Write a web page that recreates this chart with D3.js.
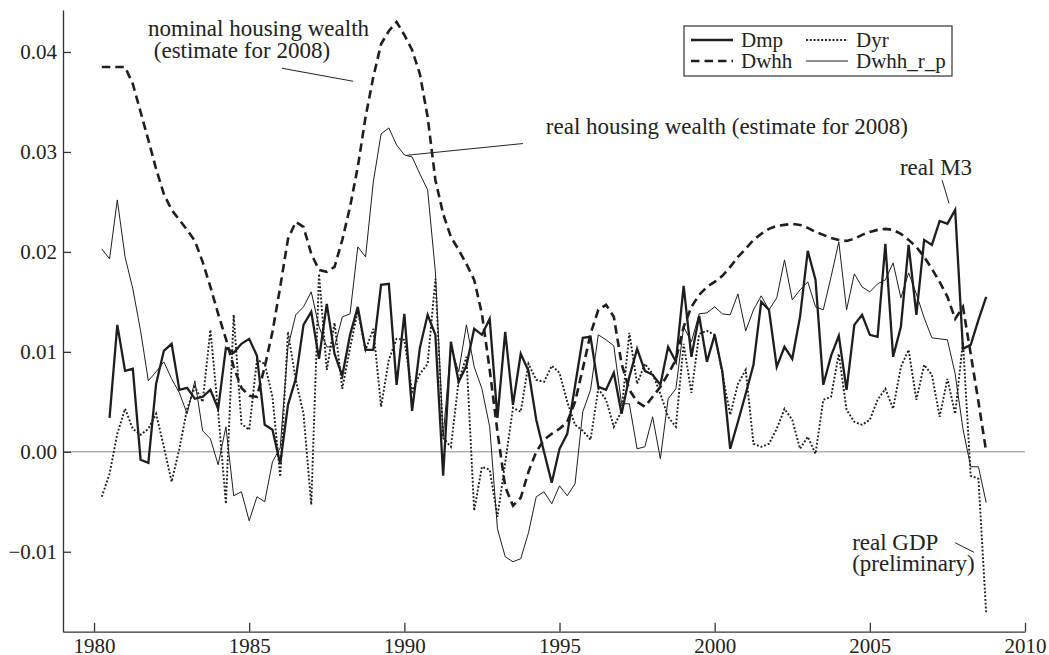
<!DOCTYPE html>
<html>
<head>
<meta charset="utf-8">
<script src="https://cdn.jsdelivr.net/npm/d3@7"></script>
<style>
  body { margin: 0; background: #fff; }
  svg text { font-family: "Liberation Serif", "Times New Roman", serif; fill: #222; }
</style>
</head>
<body>
<div id="container"></div>
<script>
/* DATA : quarterly, 1980Q2 .. 2008Q4 */
const startYear = 1980.25, step = 0.25

const dmp = [null,
  0.0034, 0.0127, 0.0081, 0.0083, -0.0008, -0.0011, 0.0068, 0.0101, 0.0108, 0.0062,
  0.0064, 0.0053, 0.0055, 0.0062, 0.0043, 0.0104, 0.0099, 0.0108, 0.0113, 0.0096,
  0.0027, 0.0022, -0.0012, 0.0047, 0.0073, 0.0127, 0.0140, 0.0093, 0.0148, 0.0098,
  0.0076, 0.0117, 0.0145, 0.0102, 0.0102, 0.0167, 0.0168, 0.0067, 0.0138, 0.0041,
  0.0104, 0.0137, 0.0117, -0.0024, 0.0110, 0.0070, 0.0086, 0.0123, 0.0117, 0.0133,
  0.0034, 0.0120, 0.0047, 0.0098, 0.0081, 0.0032, 0.0000, -0.0031, 0.0003, 0.0018,
  0.0066, 0.0114, 0.0115, 0.0065, 0.0062, 0.0079, 0.0038, 0.0075, 0.0103, 0.0081,
  0.0077, 0.0067, 0.0105, 0.0090, 0.0166, 0.0095, 0.0136, 0.0090, 0.0117, 0.0080,
  0.0003, 0.0030, 0.0058, 0.0087, 0.0150, 0.0142, 0.0085, 0.0105, 0.0093, 0.0135,
  0.0201, 0.0172, 0.0067, 0.0096, 0.0116, 0.0062, 0.0127, 0.0137, 0.0117, 0.0115,
  0.0208, 0.0095, 0.0125, 0.0207, 0.0137, 0.0212, 0.0207, 0.0231, 0.0228, 0.0242,
  0.0103, 0.0107, 0.0132, 0.0155]

const dyr = [
  -0.0045, -0.0022, 0.0018, 0.0043, 0.0023, 0.0017, 0.0023, 0.0038, 0.0005, -0.0030,
  0.0003, 0.0043, 0.0065, 0.0050, 0.0122, 0.0040, -0.0052, 0.0137, 0.0028, 0.0022,
  0.0092, 0.0088, 0.0055, -0.0025, 0.0120, 0.0072, 0.0038, -0.0053, 0.0178, 0.0082,
  0.0129, 0.0063, 0.0104, 0.0141, 0.0102, 0.0123, 0.0045, 0.0092, 0.0113, 0.0112,
  0.0060, 0.0078, 0.0088, 0.0173, 0.0014, 0.0005, 0.0071, 0.0095, -0.0059, -0.0015,
  -0.0018, -0.0065, -0.0011, 0.0044, 0.0040, 0.0088, 0.0072, 0.0070, 0.0086, 0.0079,
  0.0050, 0.0027, 0.0021, 0.0012, 0.0063, 0.0052, 0.0025, 0.0041, 0.0119, 0.0068,
  0.0088, 0.0078, 0.0058, 0.0035, 0.0025, 0.0108, 0.0059, 0.0118, 0.0121, 0.0117,
  0.0078, 0.0037, 0.0068, 0.0082, 0.0008, 0.0005, 0.0008, 0.0023, 0.0043, 0.0032,
  0.0003, 0.0015, -0.0002, 0.0052, 0.0055, 0.0098, 0.0042, 0.0030, 0.0027, 0.0032,
  0.0052, 0.0063, 0.0043, 0.0085, 0.0102, 0.0052, 0.0087, 0.0077, 0.0035, 0.0073,
  0.0038, 0.0110, -0.0024, -0.0027, -0.0162]

const dwhh = [
  0.0385, 0.0385, 0.0385, 0.0385, 0.0368, 0.0340, 0.0312, 0.0283, 0.0258, 0.0242,
  0.0232, 0.0222, 0.0211, 0.0190, 0.0165, 0.0138, 0.0113, 0.0085, 0.0064, 0.0056,
  0.0055, 0.0085, 0.0120, 0.0165, 0.0213, 0.0230, 0.0225, 0.0198, 0.0182, 0.0180,
  0.0185, 0.0212, 0.0245, 0.0285, 0.0335, 0.0375, 0.0408, 0.0421, 0.0430, 0.0417,
  0.0402, 0.0378, 0.0335, 0.0272, 0.0238, 0.0215, 0.0202, 0.0188, 0.0172, 0.0138,
  0.0082, 0.0020, -0.0035, -0.0054, -0.0046, -0.0020, 0.0000, 0.0012, 0.0018, 0.0023,
  0.0030, 0.0050, 0.0083, 0.0118, 0.0142, 0.0147, 0.0135, 0.0088, 0.0062, 0.0050,
  0.0045, 0.0055, 0.0065, 0.0078, 0.0092, 0.0125, 0.0145, 0.0157, 0.0165, 0.0170,
  0.0176, 0.0185, 0.0195, 0.0203, 0.0212, 0.0218, 0.0223, 0.0226, 0.0227, 0.0228,
  0.0227, 0.0224, 0.0220, 0.0217, 0.0214, 0.0212, 0.0211, 0.0213, 0.0217, 0.0220,
  0.0222, 0.0223, 0.0222, 0.0218, 0.0212, 0.0205, 0.0195, 0.0183, 0.0170, 0.0155,
  0.0133, 0.0145, 0.0098, 0.0050, 0.0000]

const dwhhRp = [
  0.0203, 0.0193, 0.0252, 0.0195, 0.0163, 0.0121, 0.0071, 0.0080, 0.0090, 0.0073,
  0.0059, 0.0038, 0.0071, 0.0021, 0.0013, -0.0013, 0.0025, -0.0044, -0.0040, -0.0069,
  -0.0045, -0.0050, -0.0010, 0.0004, 0.0105, 0.0137, 0.0145, 0.0160, 0.0125, 0.0105,
  0.0105, 0.0135, 0.0138, 0.0205, 0.0195, 0.0270, 0.0318, 0.0324, 0.0307, 0.0297,
  0.0295, 0.0278, 0.0262, 0.0180, 0.0015, 0.0105, 0.0080, 0.0127, 0.0085, 0.0063,
  0.0025, -0.0077, -0.0105, -0.0110, -0.0107, -0.0081, -0.0045, -0.0040, -0.0052, -0.0034,
  -0.0044, -0.0032, 0.0040, 0.0062, 0.0117, 0.0112, 0.0106, 0.0048, 0.0048, 0.0003,
  0.0005, 0.0035, -0.0007, 0.0053, 0.0063, 0.0125, 0.0110, 0.0138, 0.0139, 0.0145,
  0.0138, 0.0137, 0.0158, 0.0121, 0.0142, 0.0156, 0.0142, 0.0154, 0.0192, 0.0152,
  0.0162, 0.0170, 0.0145, 0.0142, 0.0175, 0.0210, 0.0142, 0.0178, 0.0165, 0.0160,
  0.0168, 0.0172, 0.0189, 0.0154, 0.0179, 0.0158, 0.0134, 0.0114, 0.0113, 0.0112,
  0.0078, 0.0023, -0.0015, -0.0015, -0.0051]

const xMajorTicks = [1980, 1985, 1990, 1995, 2000, 2005, 2010]
const xMinorTicks = d3.range(1980, 2011, 1)
const yMajorTicks = [-0.01, 0.00, 0.01, 0.02, 0.03, 0.04]
const yMinorTicks = d3.range(-18, 45, 2).map(d => d / 1000)

const legendItems = [
  {name: "Dmp", key: "dmp"}, {name: "Dyr", key: "dyr"},
  {name: "Dwhh", key: "dwhh"}, {name: "Dwhh_r_p", key: "rp"}]

// annotation text and pointer lines, in data units
const notes = [
  {lines: ["nominal housing wealth", " (estimate for 2008)"], x: 1981.74, y: 0.0416, dy: 21.6},
  {lines: ["real housing wealth (estimate for 2008)"], x: 1994.56, y: 0.03177},
  {lines: ["real M3"], x: 2005.97, y: 0.02767},
  {lines: ["real GDP", "(preliminary)"], x: 2004.43, y: -0.00983, dy: 21}]
const pointers = [
  [[1986.06, 0.03837], [1988.35, 0.03707]],
  [[1993.82, 0.03084], [1990.09, 0.02967]],
  [[2007.33, 0.02717], [2007.55, 0.02487]],
  [[2007.75, -0.0091], [2008.36, -0.01006]]]

/* CONSTANTS */
const width = 1049, height = 655

const styles = {
  dmp:  {w: 2.3, dash: null},
  dyr:  {w: 1.9, dash: "1.9,1.9"},
  dwhh: {w: 2.6, dash: "8.5,5"},
  rp:   {w: 1.0, dash: null}
}

/* SCALES */
const xScale = d3.scaleLinear().domain([1979, 2010]).range([63, 1025])
const yScale = d3.scaleLinear().domain([-0.018, 0.0442]).range([631.7, 10])

const svg = d3.select("#container")
  .append("svg")
  .attr("width", width)
  .attr("height", height)

// zero line
svg.append("line")
  .attr("x1", xScale(1979)).attr("x2", xScale(2010))
  .attr("y1", yScale(0)).attr("y2", yScale(0))
  .attr("stroke", "#8c8c8c").attr("stroke-width", 1)

/* AXES */
const axisColor = "#333"
const gx = svg.append("g").attr("transform", `translate(0, ${yScale(-0.018)})`)
gx.call(d3.axisBottom(xScale).tickValues(xMinorTicks).tickSize(-5).tickSizeOuter(0).tickFormat(""))
gx.call(d3.axisBottom(xScale).tickValues(xMajorTicks).tickSize(-9).tickSizeOuter(0)
  .tickPadding(6).tickFormat(d3.format("d")))

const gy = svg.append("g").attr("transform", `translate(${xScale(1979)}, 0)`)
gy.call(d3.axisLeft(yScale).tickValues(yMinorTicks).tickSize(-6).tickSizeOuter(0).tickFormat(""))
gy.call(d3.axisLeft(yScale).tickValues(yMajorTicks).tickSize(-8).tickSizeOuter(0)
  .tickPadding(6).tickFormat(d3.format(".2f")))

svg.selectAll(".domain, .tick line").attr("stroke", axisColor).attr("stroke-width", 1.3)
svg.selectAll(".tick text").attr("font-size", 21).attr("fill", "#222")
  .style("font-family", '"Liberation Serif", serif')

/* LINES */
const line = d3.line()
  .defined(d => d[1] != null)
  .x(d => xScale(d[0]))
  .y(d => yScale(d[1]))

const series = {dmp: dmp, dyr: dyr, dwhh: dwhh, rp: dwhhRp}
const order = ["dyr", "rp", "dmp", "dwhh"]

order.forEach(key => {
  const pts = series[key].map((v, i) => [startYear + i * step, v])
  svg.append("path")
    .datum(pts)
    .attr("d", line)
    .attr("fill", "none")
    .attr("stroke", "#1e1e1e")
    .attr("stroke-width", styles[key].w)
    .attr("stroke-dasharray", styles[key].dash)
    .attr("stroke-linejoin", "miter")
})

/* LEGEND */
const lg = svg.append("g").attr("transform", "translate(684, 26)")
lg.append("rect").attr("width", 268).attr("height", 50)
  .attr("fill", "#fff").attr("stroke", "#333").attr("stroke-width", 1.2)

legendItems.forEach((d, i) => {
  const col = i % 2, row = Math.floor(i / 2)
  const x0 = 7 + col * 115, yy = 14 + row * 21
  lg.append("line")
    .attr("x1", x0).attr("x2", x0 + 42).attr("y1", yy).attr("y2", yy)
    .attr("stroke", "#1e1e1e")
    .attr("stroke-width", styles[d.key].w)
    .attr("stroke-dasharray", styles[d.key].dash)
  lg.append("text")
    .attr("x", x0 + 50).attr("y", yy + 7)
    .attr("font-size", 21)
    .text(d.name)
})

/* ANNOTATIONS */
notes.forEach(n => {
  n.lines.forEach((t, k) => {
    svg.append("text")
      .attr("x", xScale(n.x))
      .attr("y", yScale(n.y) + k * (n.dy || 0))
      .attr("font-size", 23)
      .attr("xml:space", "preserve")
      .style("white-space", "pre")
      .text(t)
  })
})

svg.selectAll(".pointer")
  .data(pointers)
  .join("line")
  .attr("class", "pointer")
  .attr("x1", d => xScale(d[0][0])).attr("y1", d => yScale(d[0][1]))
  .attr("x2", d => xScale(d[1][0])).attr("y2", d => yScale(d[1][1]))
  .attr("stroke", "#222").attr("stroke-width", 1)
</script>
</body>
</html>
